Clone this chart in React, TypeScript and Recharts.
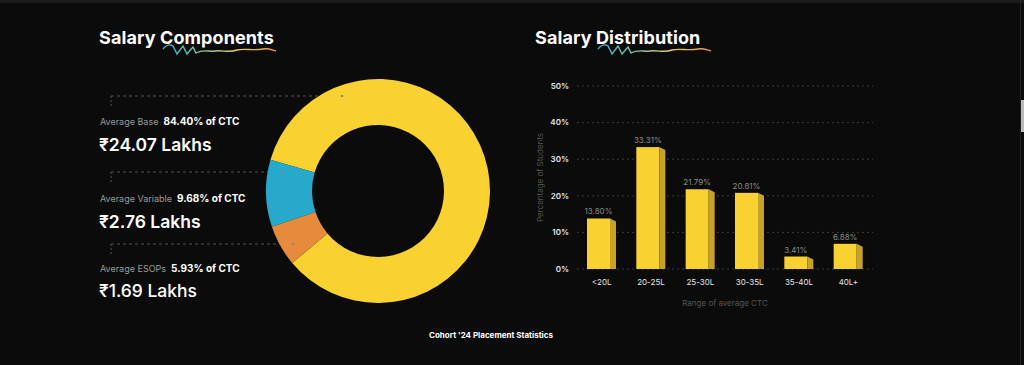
import React from "react";
import {
  PieChart, Pie, Cell, BarChart, Bar, XAxis, YAxis, CartesianGrid, LabelList,
} from "recharts";

const COMPONENT_NAMES = ["Average Base", "Average Variable", "Average ESOPs"];
const COMPONENT_PCT = [84.4, 9.68, 5.93];
const COMPONENT_LAKHS = [24.07, 2.76, 1.69];

const CTC_RANGES = ["<20L", "20-25L", "25-30L", "30-35L", "35-40L", "40L+"];
const STUDENT_SHARE = [13.8, 33.31, 21.79, 20.81, 3.41, 6.88];
const Y_TICKS = [0, 10, 20, 30, 40, 50];

const BG = "#0b0b0b";
const YELLOW = "#f9d131";
const YELLOW_SIDE = "#c6a229";
const BLUE = "#27a9cb";
const ORANGE = "#e68b3b";
const PIE_COLORS = [YELLOW, BLUE, ORANGE];
const FONT = "Inter, 'Open Sans', sans-serif";

const pieData = COMPONENT_NAMES.map((name, i) => ({ name, value: COMPONENT_PCT[i] }));
const barData = CTC_RANGES.map((range, i) => ({ range, share: STUDENT_SHARE[i] }));

// front face + slanted side face, from the bar's own box
function Bar3D(props: any) {
  const { x, y, width, height } = props;
  if (height <= 0) return null;
  const side = 6;
  const fw = width - side;
  return (
    <g>
      <rect x={x} y={y} width={fw} height={height} fill={YELLOW} />
      <polygon
        points={`${x + fw},${y} ${x + width},${y + 3} ${x + width},${y + height} ${x + fw},${y + height}`}
        fill={YELLOW_SIDE}
      />
    </g>
  );
}

function Squiggle({ left, top, id }: { left: number; top: number; id: string }) {
  return (
    <svg width={116} height={14} style={{ position: "absolute", left, top }}>
      <defs>
        <linearGradient id={id} x1="0" x2="1" y1="0" y2="0">
          <stop offset="0" stopColor="#35b4cf" />
          <stop offset="0.35" stopColor="#7fc7a0" />
          <stop offset="0.65" stopColor="#e7cf5a" />
          <stop offset="1" stopColor="#e9943f" />
        </linearGradient>
      </defs>
      <path
        d="M1 6 C4 2 8 1 11 3 L15 11 L21 3 L25 11 L31 4 L34 10 C41 6 47 9 53 8 C61 7 67 10 75 7 C83 5 91 8 101 6 C106 5 110 7 114 8"
        fill="none"
        stroke={`url(#${id})`}
        strokeWidth={1.4}
      />
    </svg>
  );
}

const titleStyle: React.CSSProperties = {
  position: "absolute", color: "#fff", fontFamily: FONT, fontWeight: 700,
  fontSize: 18, letterSpacing: "0.1px", whiteSpace: "nowrap",
};

const rowTops = [115, 192, 262];
const bigTops = [134, 211, 280];
const guideYs = [96, 172, 244];
const guideEnds = [342, 283, 293];

export default function App() {
  return (
    <div style={{ position: "absolute", left: 0, top: 0, width: 1024, height: 365, background: BG, overflow: "hidden", fontFamily: FONT }}>
      <div style={{ position: "absolute", left: 0, top: 0, width: 1024, height: 3, background: "#1b1b1b" }} />
      <div style={{ position: "absolute", left: 1020, top: 0, width: 1, height: 365, background: "#222" }} />
      <div style={{ position: "absolute", left: 1021, top: 100, width: 3, height: 32, background: "#bbb" }} />

      <div style={{ ...titleStyle, left: 99, top: 27 }}>Salary Components</div>
      <Squiggle left={162} top={43} id="sq1" />
      <div style={{ ...titleStyle, left: 535, top: 27 }}>Salary Distribution</div>
      <Squiggle left={597} top={43} id="sq2" />

      <svg width={400} height={300} style={{ position: "absolute", left: 0, top: 0 }}>
        {guideYs.map((gy, i) => (
          <g key={i}>
            <line x1={111} y1={gy} x2={guideEnds[i]} y2={gy} stroke="#555" strokeDasharray="3 3" />
            <line x1={111} y1={gy} x2={111} y2={gy + 11} stroke="#555" strokeDasharray="2 2" />
          </g>
        ))}
      </svg>

      {COMPONENT_NAMES.map((name, i) => (
        <React.Fragment key={name}>
          <div style={{ position: "absolute", left: 100, top: rowTops[i], whiteSpace: "nowrap", fontSize: 9, color: "#9a9a9a" }}>
            {name}
            <span style={{ color: "#fff", fontWeight: 700, fontSize: 10, marginLeft: 5 }}>
              {COMPONENT_PCT[i].toFixed(2)}% of CTC
            </span>
          </div>
          <div style={{ position: "absolute", left: 99, top: bigTops[i], whiteSpace: "nowrap", fontSize: 17.5, fontWeight: i === 2 ? 500 : 600, color: "#fff" }}>
            ₹{COMPONENT_LAKHS[i].toFixed(2)} Lakhs
          </div>
        </React.Fragment>
      ))}

      <div style={{ position: "absolute", left: 253, top: 66 }}>
        <PieChart width={250} height={250}>
          <Pie
            data={pieData}
            dataKey="value"
            nameKey="name"
            cx={120}
            cy={120}
            innerRadius={66}
            outerRadius={112}
            startAngle={220}
            endAngle={580}
            stroke="none"
            isAnimationActive={false}
          >
            {pieData.map((d, i) => (
              <Cell key={d.name} fill={PIE_COLORS[i]} />
            ))}
          </Pie>
        </PieChart>
      </div>

      <svg width={400} height={300} style={{ position: "absolute", left: 0, top: 0 }}>
        {guideYs.map((gy, i) => (
          <circle key={i} cx={guideEnds[i]} cy={gy} r={1.3} fill="#8a8a8a" />
        ))}
      </svg>

      <div style={{ position: "absolute", left: 520, top: 70 }}>
        <BarChart width={380} height={240} data={barData} margin={{ top: 16, right: 27, left: 0, bottom: 0 }} barSize={29}>
          <CartesianGrid vertical={false} stroke="#3a3a3a" strokeDasharray="2 3" />
          <XAxis
            dataKey="range"
            height={41}
            axisLine={false}
            tickLine={false}
            tickMargin={4}
            tick={{ fill: "#e6e6e6", fontSize: 8, fontFamily: FONT }}
            interval={0}
            label={{ value: "Range of average CTC", position: "insideBottom", offset: 4, fill: "#555", fontSize: 8, fontFamily: FONT }}
          />
          <YAxis
            width={57}
            domain={[0, 50]}
            ticks={Y_TICKS}
            axisLine={false}
            tickLine={false}
            tick={{ fill: "#e6e6e6", fontSize: 8, fontFamily: FONT, fontWeight: 600 }}
            tickFormatter={(v) => `${v}%`}
            label={{ value: "Percentage of Students", angle: -90, position: "center", dx: -8, fill: "#555", fontSize: 8, fontFamily: FONT }}
          />
          <Bar dataKey="share" shape={<Bar3D />} isAnimationActive={false}>
            <LabelList
              dataKey="share"
              position="top"
              offset={4}
              dx={-3}
              fill="#8a8a8a"
              fontSize={8}
              fontFamily={FONT}
              formatter={(v: any) => `${Number(v).toFixed(2)}%`}
            />
          </Bar>
        </BarChart>
      </div>

      <div style={{ position: "absolute", left: 0, width: 982, top: 330, textAlign: "center", color: "#fff", fontSize: 8, fontWeight: 700 }}>
        Cohort '24 Placement Statistics
      </div>
    </div>
  );
}
